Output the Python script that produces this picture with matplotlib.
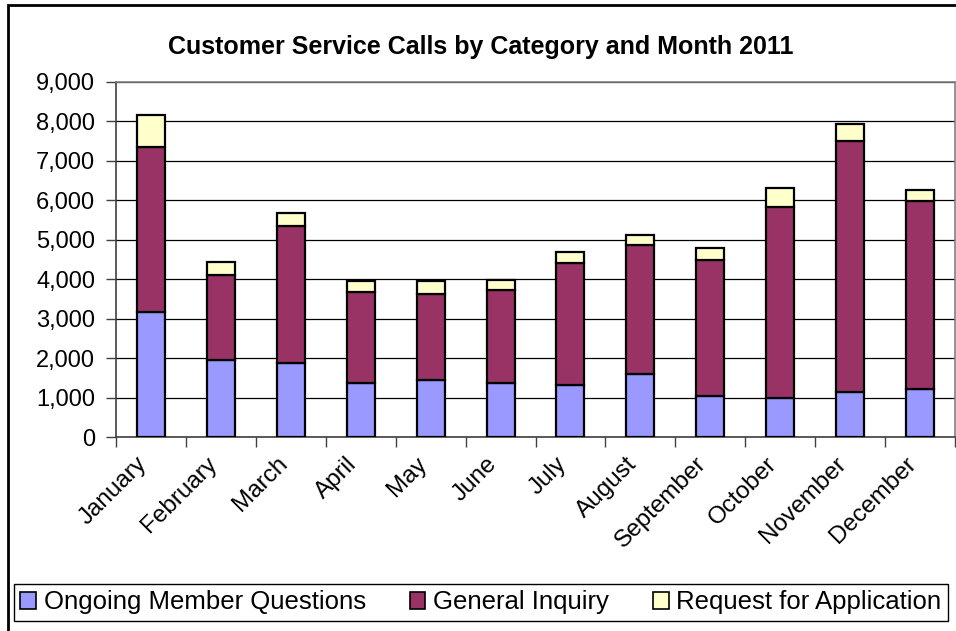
import numpy as np
import matplotlib
matplotlib.use('Agg')
import matplotlib.pyplot as plt
from matplotlib.patches import Rectangle

plt.rcParams['font.family'] = ['Liberation Sans', 'DejaVu Sans']

# data
months = ['January', 'February', 'March', 'April', 'May', 'June', 'July',
          'August', 'September', 'October', 'November', 'December']
ongoing = [3180, 1960, 1880, 1370, 1455, 1370, 1330, 1600, 1040, 1000, 1135, 1225]
general = [4180, 2135, 3460, 2310, 2165, 2350, 3085, 3275, 3450, 4840, 6360, 4750]
request = [800, 330, 330, 280, 330, 270, 280, 235, 300, 470, 435, 295]
series_names = ['Ongoing Member Questions', 'General Inquiry', 'Request for Application']
colors = ['#9999FF', '#993366', '#FFFFCC']
yticks = np.arange(0, 9001, 1000)

W, H = 956, 631
fig = plt.figure(figsize=(W / 100, H / 100), dpi=100)
ax = fig.add_axes([116 / W, 1 - 437 / H, (955 - 116) / W, (437 - 82) / H])

x = np.arange(len(months))
bottom = np.zeros(len(months))
handles = []
for vals, name, c in zip([ongoing, general, request], series_names, colors):
    b = ax.bar(x, vals, 0.4, bottom=bottom, color=c, edgecolor='black',
               linewidth=1.6, label=name, zorder=3)
    bottom += np.array(vals)
    handles.append(b)

ax.set_xlim(-0.5, len(months) - 0.5)
ax.set_ylim(0, 9000)
ax.set_yticks(yticks)
ax.set_yticklabels(['{:,}'.format(v) for v in yticks], fontsize=17)
ax.yaxis.grid(True, color='black', linewidth=0.9, zorder=0)
ax.set_axisbelow(True)

ax.set_xticks(x)
ax.set_xticklabels([])
ax.set_xticks(np.arange(-0.5, len(months)), minor=True)
ax.tick_params(axis='x', which='major', length=0)
ax.tick_params(axis='x', which='minor', length=7, width=1, color='#404040')
ax.tick_params(axis='y', length=7, width=1, color='#404040', pad=8)

for i, m in enumerate(months):
    ax.annotate(m, xy=(i, 0), xycoords='data', xytext=(-5, -17),
                textcoords='offset points', rotation=45, rotation_mode='anchor',
                ha='right', va='center', fontsize=17.5)

for s in ['left', 'bottom']:
    ax.spines[s].set_color('#404040')
    ax.spines[s].set_linewidth(1.2)
for s in ['top', 'right']:
    ax.spines[s].set_color('#808080')
    ax.spines[s].set_linewidth(1.2)

fig.text(481 / W, 1 - 47 / H, 'Customer Service Calls by Category and Month 2011',
         ha='center', va='center', fontsize=18, fontweight='bold')

leg = fig.legend(handles=handles, labels=series_names, loc='center', ncol=3,
                 bbox_to_anchor=(14 / W, 1 - 622 / H, 934 / W, 39 / H),
                 mode='expand', borderaxespad=0, fontsize=18.5,
                 fancybox=False, edgecolor='black', handlelength=0.6,
                 handleheight=0.6, handletextpad=0.3, framealpha=1,
                 borderpad=0.25)
leg.get_frame().set_linewidth(1.0)
for p in leg.get_patches():
    p.set_linewidth(1.2)

# outer chart frame (cropped at right and bottom)
fig.patches.append(Rectangle((8 / W, -0.1), 1.2, 1 - 5 / H + 0.1,
                             transform=fig.transFigure, fill=False,
                             edgecolor='black', linewidth=2))

fig.savefig('out.png', dpi=100)
